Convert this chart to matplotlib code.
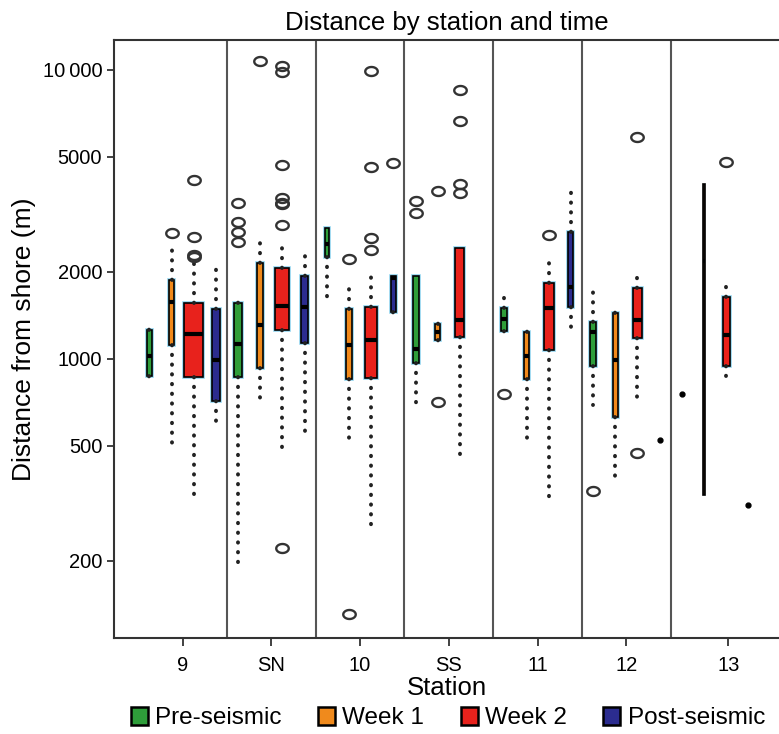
import numpy as np
import matplotlib.pyplot as plt
from matplotlib.patches import Patch
from matplotlib.path import Path
from matplotlib.ticker import FixedLocator, NullLocator

plt.rcParams['font.family'] = ['Liberation Sans', 'DejaVu Sans']

stations = ['9', 'SN', '10', 'SS', '11', '12', '13']
periods = ['Pre-seismic', 'Week 1', 'Week 2', 'Post-seismic']

# five-number summaries per station (whisker low, Q1, median, Q3, whisker high), outliers, group size
pre_lo = [860, 189, 1615, 667, 1207, 693, 755]
pre_q1 = [869, 864, 2244, 969, 1245, 942, 755]
pre_med = [1025, 1126, 2500, 1085, 1372, 1238, 755]
pre_q3 = [1257, 1555, 2840, 1931, 1502, 1346, 755]
pre_hi = [1338, 1625, 2840, 1931, 1746, 1719, 755]
pre_out = [[], [3460, 2973, 2752, 2543], [], [3532, 3198], [757], [348], []]
pre_n = [6, 15, 4, 8, 8, 6, 1]

wk1_lo = [504, 689, 494, 1116, 494, 388, 337]
wk1_q1 = [1116, 928, 850, 1162, 850, 631, 337]
wk1_med = [1575, 1309, 1119, 1238, 1019, 994, 2188]
wk1_q3 = [1877, 2143, 1483, 1318, 1238, 1438, 4028]
wk1_hi = [2388, 2711, 1775, 1381, 1297, 1517, 4028]
wk1_out = [[2725], [10740], [2208, 131], [3819, 711], [], [], []]
wk1_n = [8, 8, 8, 6, 6, 6, 2]

wk2_lo = [330, 491, 260, 438, 319, 738, 871]
wk2_q1 = [863, 1257, 858, 1188, 1075, 1181, 942]
wk2_med = [1215, 1527, 1162, 1368, 1502, 1359, 1207]
wk2_q3 = [1565, 2055, 1517, 2427, 1831, 1762, 1640]
wk2_hi = [2173, 2543, 2010, 2427, 2303, 1963, 1848]
wk2_out = [[4170, 2650, 2290, 2250],
           [10350, 9840, 4690, 3590, 3475, 3427, 2905, 221],
           [9930, 4614, 2625, 2377],
           [8550, 6655, 4045, 3740],
           [2684], [5880, 473], [4786]]
wk2_n = [82, 44, 33, 18, 23, 18, 11]

post_lo = [574, 545, 1368, 0, 1269, 523, 312]
post_q1 = [714, 1137, 1456, 0, 1517, 523, 312]
post_med = [994, 1517, 1900, 0, 1775, 523, 312]
post_q3 = [1483, 1931, 1931, 0, 2748, 523, 312]
post_hi = [2108, 2337, 1931, 0, 3785, 523, 312]
post_out = [[], [], [4766], [], [], [], []]
post_n = [15, 11, 6, 0, 6, 1, 1]

colors = ['#2e9e3a', '#f08a1c', '#e8221c', '#2b2c8f']
offsets = [-0.375, -0.125, 0.125, 0.375]

series = [
    (pre_lo, pre_q1, pre_med, pre_q3, pre_hi, pre_out, pre_n),
    (wk1_lo, wk1_q1, wk1_med, wk1_q3, wk1_hi, wk1_out, wk1_n),
    (wk2_lo, wk2_q1, wk2_med, wk2_q3, wk2_hi, wk2_out, wk2_n),
    (post_lo, post_q1, post_med, post_q3, post_hi, post_out, post_n),
]

# slightly flattened open circle, as in the original outliers
t = np.linspace(0, 2 * np.pi, 40)
ellipse = Path(np.column_stack([np.cos(t), 0.72 * np.sin(t)]), closed=True)

fig = plt.figure(figsize=(7.79, 7.34), dpi=100)
ax = fig.add_axes([114 / 779, (734 - 638) / 734, 665 / 779, 598 / 734])

for k, (lo, q1, med, q3, hi, out, n) in enumerate(series):
    for i in range(len(stations)):
        if n[i] == 0:
            continue
        x = i + offsets[k]
        if n[i] == 1:
            ax.plot(x, med[i], 'o', color='black', ms=3.5, zorder=3)
            continue
        st = dict(whislo=lo[i], q1=q1[i], med=med[i], q3=q3[i], whishi=hi[i], fliers=out[i])
        w = 0.0237 * np.sqrt(n[i])
        if n[i] > 2:
            face = colors[k]
            # light blue halo behind the box outline
            ax.bxp([st], positions=[x], widths=[w], patch_artist=True, showcaps=False,
                   showfliers=False, manage_ticks=False,
                   boxprops=dict(facecolor='none', edgecolor='#8fd3ee', linewidth=2.6),
                   medianprops=dict(linewidth=0), whiskerprops=dict(linewidth=0))
        else:
            face = '#3a2412'
        ax.bxp([st], positions=[x], widths=[w], patch_artist=True,
               showcaps=False, manage_ticks=False,
               boxprops=dict(facecolor=face, edgecolor='black', linewidth=1.2),
               medianprops=dict(color='black', linewidth=3, solid_capstyle='butt'),
               whiskerprops=dict(color='#222222', linewidth=2.8, linestyle=(0, (0.1, 2.4)),
                                 dash_capstyle='round'),
               flierprops=dict(marker=ellipse, markerfacecolor='none', markeredgecolor='#333333',
                               markersize=9, markeredgewidth=1.7))

for i in range(len(stations) - 1):
    ax.axvline(i + 0.5, color='#555555', linewidth=1.5, zorder=0)

ax.set_yscale('log')
ax.set_ylim(108, 12700)
ax.set_xlim(-0.773, 6.72)
ax.yaxis.set_major_locator(FixedLocator([200, 500, 1000, 2000, 5000, 10000]))
ax.yaxis.set_minor_locator(NullLocator())
ax.set_yticklabels(['200', '500', '1000', '2000', '5000', '10\u2009000'])
ax.set_xticks([0, 1, 2, 3, 4, 5, 6.15])
ax.set_xticklabels(stations)
ax.tick_params(axis='both', labelsize=14.5, length=5, width=1.3, color='#333333')
ax.tick_params(axis='x', length=6, pad=7)

for side in ['left', 'bottom', 'top']:
    ax.spines[side].set_linewidth(1.5)
    ax.spines[side].set_color('#333333')
ax.spines['right'].set_visible(False)

ax.set_title('Distance by station and time', fontsize=18.5, pad=7)
ax.set_xlabel('Station', fontsize=18.5, labelpad=1)
ax.set_ylabel('Distance from shore (m)', fontsize=19, labelpad=5)

handles = [Patch(facecolor=c, edgecolor='black', linewidth=1.8) for c in colors]
fig.legend(handles, periods, loc='center', bbox_to_anchor=(448 / 779, 1 - 718 / 734),
           ncol=4, frameon=False, fontsize=17.5, handlelength=0.7, handleheight=0.75,
           handletextpad=0.3, columnspacing=1.5, borderaxespad=0)

fig.savefig('out.png', dpi=100)
